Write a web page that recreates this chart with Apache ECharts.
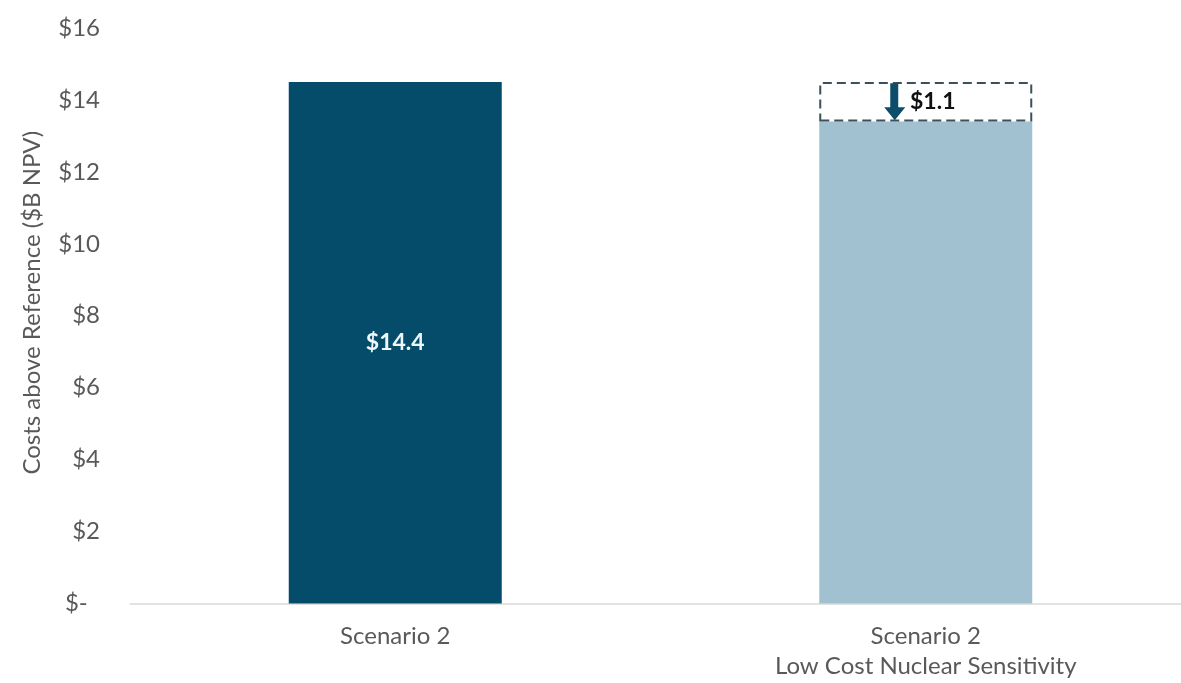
<!DOCTYPE html>
<html>
<head>
<meta charset="utf-8">
<script src="https://cdn.jsdelivr.net/npm/echarts@6/dist/echarts.min.js"></script>
<style>
  html, body { margin: 0; padding: 0; background: #ffffff; }
  #chart { width: 1181px; height: 683px; }
</style>
</head>
<body>
<div id="chart"></div>
<script>
const categories = ['Scenario 2', 'Scenario 2\nLow Cost Nuclear Sensitivity'];
const costValues = [14.5, 13.4];
const reductionValues = ['-', 1.1];
const barLabels = ['$14.4', ''];
const reductionLabels = ['', '$1.1'];
const yAxisTitle = 'Costs above Reference ($B NPV)';
const yMin = 0, yMax = 16, yStep = 2;

const FONT = 'Lato';
const barColors = ['#054c6b', '#a1c1d1'];

const chart = echarts.init(document.getElementById('chart'), null, { renderer: 'canvas' });

const option = {
  backgroundColor: '#ffffff',
  animation: false,
  grid: { left: 130, width: 1061, top: 28, bottom: 79.5, containLabel: false, outerBoundsMode: 'none' },
  xAxis: {
    type: 'category',
    data: categories,
    axisLine: { show: true, lineStyle: { color: '#d9d9d9', width: 1.5 } },
    axisTick: { show: false },
    axisLabel: { color: '#595959', fontFamily: FONT, fontSize: 24, lineHeight: 30, margin: 18 },
    splitLine: { show: false }
  },
  yAxis: {
    type: 'value',
    min: yMin, max: yMax, interval: yStep,
    name: yAxisTitle,
    nameLocation: 'middle',
    nameGap: 86,
    nameTextStyle: { color: '#595959', fontFamily: FONT, fontSize: 24, padding: [0, 0, 0, 26] },
    axisLine: { show: false },
    axisTick: { show: false },
    splitLine: { show: false },
    axisLabel: {
      color: '#595959', fontFamily: FONT, fontSize: 24, margin: 30,
      formatter: v => v === 0 ? '$-  ' : '$' + v
    }
  },
  series: [
    {
      type: 'bar',
      stack: 'total',
      barWidth: 213,
      data: costValues.map((v, i) => ({ value: v, itemStyle: { color: barColors[i] } })),
      label: {
        show: true,
        position: 'inside',
        color: '#eef7fb',
        fontFamily: FONT,
        fontWeight: 'bold',
        fontSize: 23,
        formatter: p => barLabels[p.dataIndex]
      }
    },
    {
      type: 'bar',
      stack: 'total',
      barWidth: 213,
      data: reductionValues,
      itemStyle: {
        color: 'rgba(255,255,255,0)',
        borderColor: '#3d4f5b',
        borderWidth: 2,
        borderType: [9, 5]
      },
      label: {
        show: true,
        position: 'inside',
        offset: [7, 0],
        color: '#111111',
        fontFamily: FONT,
        fontWeight: 'bold',
        fontSize: 23,
        formatter: p => reductionLabels[p.dataIndex]
      },
      markPoint: {
        symbol: 'path://M6,0 L14,0 L14,24 L21,24 L10.5,37 L0,24 L6,24 Z',
        symbolSize: [21, 37],
        symbolKeepAspect: false,
        symbolOffset: [-31, 0],
        itemStyle: { color: '#0b4d6b' },
        label: { show: false },
        data: [{ coord: [1, costValues[1] + reductionValues[1] / 2] }]
      }
    }
  ]
};

chart.setOption(option);
</script>
</body>
</html>
